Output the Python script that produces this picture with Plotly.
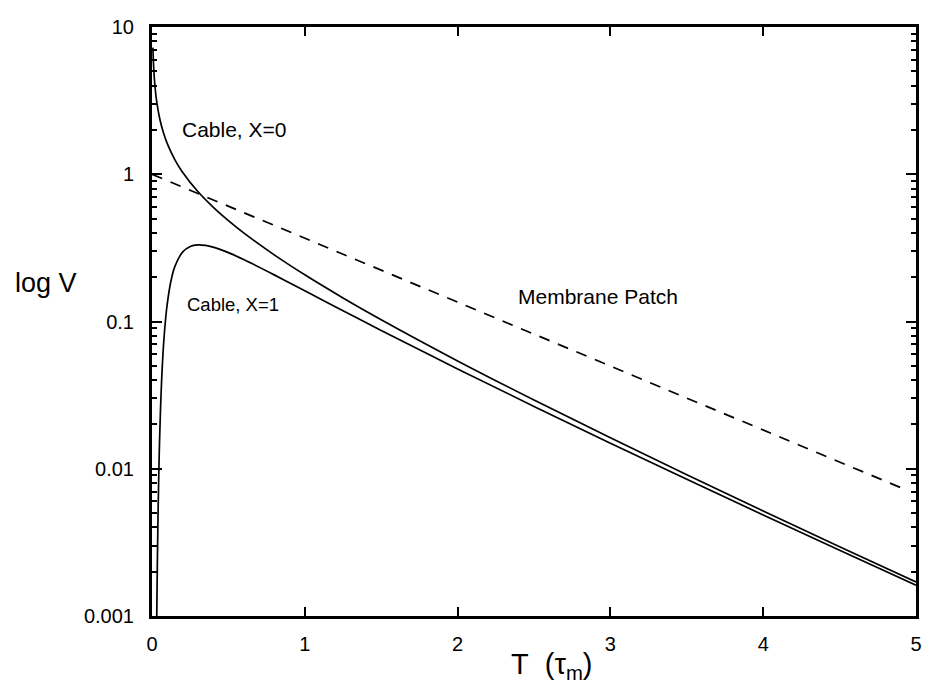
import plotly.graph_objects as go

# Cable, X=0
t_x0 = [0.006, 0.008, 0.01, 0.015, 0.02, 0.03, 0.05, 0.075, 0.1, 0.15, 0.2, 0.3, 0.4, 0.5, 0.6, 0.8,
        1.0, 1.25, 1.5, 2.0, 2.5, 3.0, 3.5, 4.0, 4.5, 5.0]
v_x0 = [7.24, 6.258, 5.586, 4.538, 3.910, 3.161, 2.400, 1.911, 1.614, 1.2538, 1.0329, 0.7631, 0.5980,
        0.4839, 0.3997, 0.2834, 0.20756, 0.14458, 0.10279, 0.05399, 0.02929, 0.016217, 0.009107,
        0.005167, 0.0029546, 0.0017001]

# Cable, X=1
t_x1 = [0.03, 0.035, 0.04, 0.045, 0.05, 0.06, 0.075, 0.09, 0.1, 0.125, 0.15, 0.2, 0.25, 0.3, 0.35,
        0.4, 0.5, 0.6, 0.8, 1.0, 1.25, 1.5, 2.0, 2.5, 3.0, 3.5, 4.0, 4.5, 5.0]
v_x1 = [0.00076, 0.0023, 0.005232, 0.009829, 0.01617, 0.03363, 0.06817, 0.10687, 0.13249, 0.19059,
        0.23681, 0.29593, 0.32328, 0.33164, 0.32899, 0.32009, 0.29350, 0.26350, 0.20734, 0.16165,
        0.11837, 0.08701, 0.04765, 0.02650, 0.014920, 0.008479, 0.004854, 0.002795, 0.0016172]

# Membrane Patch
t_mp = [0.0, 1.0, 2.0, 3.0, 4.0, 4.92]
v_mp = [1.0, 0.3679, 0.1353, 0.04979, 0.01832, 0.00730]

x_ticks = [0, 1, 2, 3, 4, 5]
y_ticks = [0.001, 0.01, 0.1, 1, 10]
y_tick_labels = ["0.001", "0.01", "0.1", "1", "10"]

FONT = "Liberation Sans, Arial, sans-serif"

fig = go.Figure()
fig.add_trace(go.Scatter(x=t_x0, y=v_x0, mode="lines", line=dict(color="black", width=1.7, shape="spline"),
                         showlegend=False, cliponaxis=True))
fig.add_trace(go.Scatter(x=t_x1, y=v_x1, mode="lines", line=dict(color="black", width=1.7, shape="spline"),
                         showlegend=False, cliponaxis=True))
fig.add_trace(go.Scatter(x=t_mp, y=v_mp, mode="lines", line=dict(color="black", width=1.7, dash="11px,9px"),
                         showlegend=False))

# page body has an 8px margin: figure is drawn at (8, 8)
fig.update_layout(
    width=922, height=686,
    margin=dict(l=144, r=8, t=10, b=78),
    paper_bgcolor="white", plot_bgcolor="white",
    font=dict(family=FONT, color="black", size=20),
    xaxis=dict(range=[0, 5], tickvals=x_ticks, ticktext=[str(v) for v in x_ticks],
               ticks="inside", ticklen=9, tickwidth=2, tickcolor="black",
               showline=True, linewidth=3, linecolor="black", mirror="ticks",
               showgrid=False, zeroline=False, ticklabelstandoff=8,
               tickfont=dict(size=20, family=FONT)),
    yaxis=dict(type="log", range=[-3, 1], tickvals=y_ticks, ticktext=y_tick_labels,
               ticks="inside", ticklen=10, tickwidth=2, tickcolor="black",
               minor=dict(ticks="inside", ticklen=5, tickwidth=1.5, tickcolor="black", dtick="D1", showgrid=False),
               showline=True, linewidth=3, linecolor="black", mirror="ticks",
               showgrid=False, zeroline=False, ticklabelstandoff=11,
               tickfont=dict(size=20, family=FONT)),
)

annotations = [
    dict(text="Cable, X=0", x=0.18, y=0.304, xanchor="left", yanchor="middle", font=dict(size=21)),
    dict(text="Cable, X=1", x=0.215, y=-0.886, xanchor="left", yanchor="middle", font=dict(size=18.5)),
    dict(text="Membrane Patch", x=2.92, y=-0.833, xanchor="center", yanchor="middle", font=dict(size=21)),
]
for a in annotations:
    fig.add_annotation(xref="x", yref="y", showarrow=False, **a)

fig.add_annotation(text="log V", xref="paper", yref="paper", x=-(152 - 45) / 770, y=(616 - 278) / 598,
                   xanchor="center", yanchor="middle", showarrow=False, font=dict(size=27))
fig.add_annotation(text="T&nbsp;&nbsp;(τ<sub>m</sub>)", xref="paper", yref="paper", x=(555 - 152) / 770,
                   y=-(667 - 616) / 598, xanchor="center", yanchor="middle", showarrow=False,
                   font=dict(size=29))

fig.write_html("out.html")
